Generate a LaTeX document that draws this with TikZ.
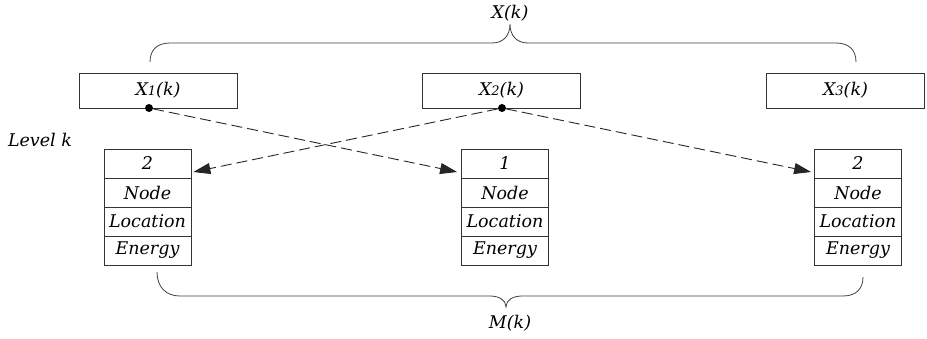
\documentclass[tikz,border=0pt]{standalone}
\usepackage{fontspec}
\setmainfont{DejaVu Serif}
\usetikzlibrary{arrows.meta,calc}
\tikzset{
  lbl/.style={font=\fontsize{17.5}{20}\selectfont\itshape, inner sep=0pt},
  topbox/.style={draw=black!80, line width=0.8pt, minimum width=158pt, minimum height=35pt, inner sep=0pt, font=\fontsize{17.5}{20}\selectfont\itshape},
  cell/.style={draw=black!80, line width=0.8pt, minimum width=87pt, minimum height=29pt, inner sep=0pt, font=\fontsize{17.5}{20}\selectfont\itshape},
  dotnode/.style={circle, fill=black, inner sep=0pt, minimum size=8pt},
  link/.style={draw=black!85, line width=0.9pt, dash pattern=on 11pt off 5pt, -{Triangle[length=17pt,width=11pt]}},
  bracepath/.style={draw=black!75, line width=0.8pt}
}
\newcommand{\sm}[1]{{\fontsize{13}{15}\selectfont #1}}
\begin{document}
\begin{tikzpicture}[x=1pt,y=-1pt]
\useasboundingbox (0,0) rectangle (927,338);
% top boxes
\node[topbox] (x1) at (158,90.5) {X\sm{1}(k)};
\node[topbox] (x2) at (501.5,90.5) {X\sm{2}(k)};
\node[topbox] (x3) at (845.5,90.5) {X\sm{3}(k)};
\node[dotnode] (d1) at (149,108) {};
\node[dotnode] (d2) at (502,108) {};
% level label
\node[lbl] (lev) at (40,140) {Level k};
% stacks
\foreach \n/\x/\v in {a/147.5/2, b/505/1, c/858/2}{
  \node[cell] (\n1) at (\x,163.5) {\v};
  \node[cell] (\n2) at (\x,192.5) {Node};
  \node[cell] (\n3) at (\x,221.5) {Location};
  \node[cell] (\n4) at (\x,250.5) {Energy};
}
% arrows
\coordinate (ta) at ($(a1.east)+(2,8.5)$);
\coordinate (tb) at ($(b1.west)+(-4,8.5)$);
\coordinate (tc) at ($(c1.west)+(-3,8.5)$);
\draw[link] (d1) -- (tb);
\draw[link] (d2) -- (ta);
\draw[link] (d2) -- (tc);
% top brace
\coordinate (tl) at (150,62);
\coordinate (tr) at (856,62);
\coordinate (tt) at (510,24);
\draw[bracepath] (tl) .. controls (150,50) and (157,43) .. (170,43) -- (492,43)
  .. controls (503,43) and (510,36) .. (tt)
  .. controls (510,36) and (517,43) .. (528,43) -- (836,43)
  .. controls (849,43) and (856,50) .. (tr);
\node[lbl] (xk) at (510,13) {X(k)};
% bottom brace
\coordinate (bl) at (157,272);
\coordinate (br) at (863,277);
\coordinate (bt) at (506,307);
\draw[bracepath] (bl) .. controls (157,287) and (166,296) .. (180,296) -- (490,296)
  .. controls (499,296) and (506,300) .. (bt)
  .. controls (506,300) and (513,296) .. (522,296) -- (843,296)
  .. controls (856,296) and (863,289) .. (br);
\node[lbl] (mk) at (510,323) {M(k)};
\end{tikzpicture}
\end{document}
